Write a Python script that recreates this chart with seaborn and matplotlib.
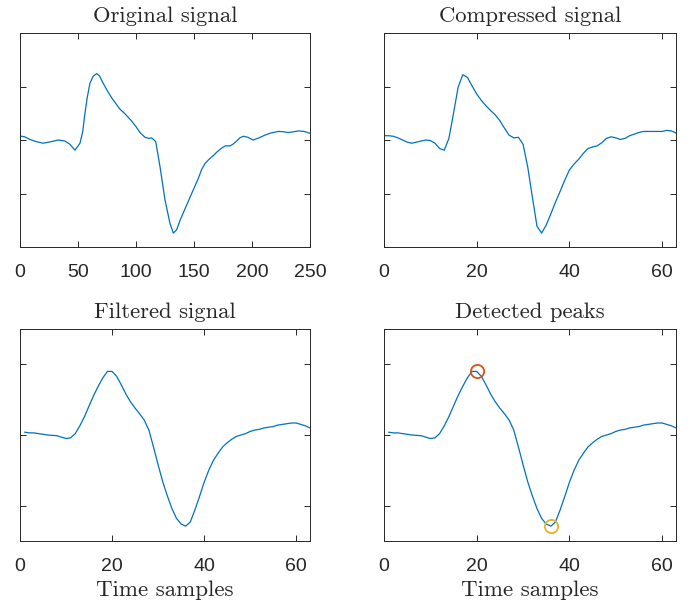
import matplotlib
matplotlib.use("Agg")
import matplotlib.pyplot as plt
import seaborn as sns
import pandas as pd

# ---------------- data ----------------
orig_x = [0, 4, 8.6, 14, 20, 27, 33, 38.8, 43, 47.4, 51.7, 54, 56, 58, 60.3, 63, 66,
          68.5, 71, 75, 79, 86, 90.5, 96, 100, 103.4, 107.8, 111, 113.5, 117, 120.7,
          125, 129.3, 132.2, 135, 138, 142, 149.4, 153.7, 156.6, 159.5, 163, 166.7,
          170, 173.9, 177, 181, 183.5, 186.8, 189.5, 192.5, 196.5, 201, 206, 211,
          216, 222.7, 227, 231, 235, 240, 245, 250]
orig_y = [0.075, 0.06, 0.01, -0.03, -0.06, -0.03, 0.0, -0.02, -0.08, -0.19, -0.06,
          0.15, 0.5, 0.8, 1.06, 1.19, 1.24, 1.2, 1.09, 0.93, 0.79, 0.58, 0.49, 0.36,
          0.25, 0.14, 0.05, 0.03, 0.04, -0.03, -0.5, -1.12, -1.56, -1.74, -1.68,
          -1.5, -1.3, -0.93, -0.72, -0.55, -0.44, -0.36, -0.29, -0.22, -0.15, -0.11,
          -0.11, -0.08, -0.02, 0.04, 0.07, 0.05, 0.0, 0.04, 0.09, 0.13, 0.16, 0.155,
          0.14, 0.15, 0.17, 0.16, 0.125]

comp_y = [0.08, 0.08, 0.07, 0.04, 0.0, -0.04, -0.06, -0.04, -0.02, 0.0, -0.01, -0.06,
          -0.16, -0.19, 0.03, 0.5, 0.99, 1.22, 1.17, 1.01, 0.86, 0.74, 0.64, 0.55,
          0.47, 0.36, 0.22, 0.09, 0.04, 0.05, -0.08, -0.5, -1.06, -1.61, -1.74,
          -1.59, -1.38, -1.16, -0.96, -0.75, -0.56, -0.45, -0.36, -0.25, -0.16,
          -0.13, -0.11, -0.05, 0.03, 0.06, 0.04, 0.01, 0.03, 0.08, 0.11, 0.14, 0.16,
          0.16, 0.16, 0.16, 0.16, 0.18, 0.17, 0.13]
comp_x = list(range(len(comp_y)))

filt_y = [0.04, 0.03, 0.03, 0.02, 0.01, 0.0, -0.005, -0.01, -0.03, -0.05, -0.04,
          0.02, 0.13, 0.26, 0.41, 0.56, 0.69, 0.81, 0.9, 0.9, 0.83, 0.71, 0.58, 0.47,
          0.38, 0.3, 0.21, 0.07, -0.17, -0.42, -0.66, -0.86, -1.04, -1.18, -1.26,
          -1.29, -1.23, -1.06, -0.87, -0.67, -0.5, -0.36, -0.26, -0.17, -0.11, -0.06,
          -0.02, 0.0, 0.02, 0.05, 0.07, 0.08, 0.1, 0.11, 0.12, 0.14, 0.15, 0.16, 0.17,
          0.17, 0.15, 0.13, 0.1]
filt_x = list(range(1, len(filt_y) + 1))

max_x, max_y = [20], [0.9]
min_x, min_y = [36], [-1.29]

titles = ["Original signal", "Compressed signal", "Filtered signal", "Detected peaks"]
xlabel = "Time samples"

# ---------------- style ----------------
sns.set_theme(style="ticks")
plt.rcParams["font.family"] = ["Liberation Sans", "DejaVu Sans"]
BLUE = "#0072BD"
SPINE = "#262626"

fig = plt.figure(figsize=(6.9, 6.05), dpi=100)
W, H = 690, 605
def add_ax(l, t, r, b):
    return fig.add_axes([l / W, 1 - b / H, (r - l) / W, (b - t) / H])

ax1 = add_ax(20, 33, 310, 247)
ax2 = add_ax(384, 33, 676, 247)
ax3 = add_ax(20, 329, 310, 541)
ax4 = add_ax(384, 329, 676, 541)

sns.lineplot(data=pd.DataFrame({"x": orig_x, "y": orig_y}), x="x", y="y", ax=ax1,
             color=BLUE, lw=0.9)
sns.lineplot(data=pd.DataFrame({"x": comp_x, "y": comp_y}), x="x", y="y", ax=ax2,
             color=BLUE, lw=0.9)
sns.lineplot(data=pd.DataFrame({"x": filt_x, "y": filt_y}), x="x", y="y", ax=ax3,
             color=BLUE, lw=0.9)
sns.lineplot(data=pd.DataFrame({"x": filt_x, "y": filt_y}), x="x", y="y", ax=ax4,
             color=BLUE, lw=0.9)
ax4.plot(max_x, max_y, "o", mfc="none", mec="#D95319", mew=1.3, ms=9.5)
ax4.plot(min_x, min_y, "o", mfc="none", mec="#EDB120", mew=1.3, ms=9.5)

ax1.set_xlim(0, 250); ax1.set_ylim(-2, 2)
ax1.set_xticks([0, 50, 100, 150, 200, 250])
ax2.set_xlim(0, 63); ax2.set_ylim(-2, 2)
for a in (ax3, ax4):
    a.set_xlim(0, 63); a.set_ylim(-1.5, 1.5)
for a in (ax2, ax3, ax4):
    a.set_xticks([0, 20, 40, 60])

for a, t in zip((ax1, ax2, ax3, ax4), titles):
    a.set_yticks([-1, 0, 1])
    a.set_yticklabels([])
    a.set_ylabel("")
    a.set_xlabel("")
    a.tick_params(direction="in", length=4, width=0.7, color=SPINE,
                  top=True, right=True, left=True, bottom=True,
                  labelsize=14, labelcolor="#262626", pad=12)
    for s in a.spines.values():
        s.set_visible(True)
        s.set_color(SPINE)
        s.set_linewidth(0.7)
    a.set_title(t, fontfamily="cmr10", fontsize=16.3, color="#262626", pad=8)

for a in (ax3, ax4):
    a.set_xlabel(xlabel, fontfamily="cmr10", fontsize=16.5, color="#262626",
                 labelpad=4)

fig.savefig("out.png", dpi=100, facecolor="white")
